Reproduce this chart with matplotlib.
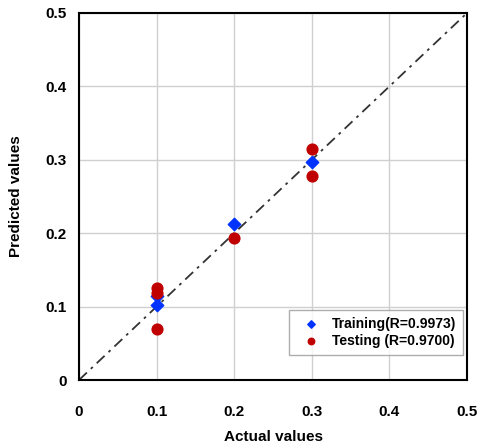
import matplotlib
matplotlib.use("Agg")
import matplotlib.pyplot as plt

plt.rcParams['font.family'] = ['Liberation Sans', 'DejaVu Sans']

train_actual = [0.1, 0.1, 0.2, 0.3]
train_pred = [0.102, 0.114, 0.212, 0.297]
test_actual = [0.1, 0.1, 0.1, 0.2, 0.3, 0.3]
test_pred = [0.125, 0.118, 0.070, 0.193, 0.315, 0.278]
ticks = [0, 0.1, 0.2, 0.3, 0.4, 0.5]
tick_labels = ['0', '0.1', '0.2', '0.3', '0.4', '0.5']

fig = plt.figure(figsize=(4.89, 4.44), dpi=100)
ax = fig.add_axes([79/489, 1-380/444, (467-79)/489, (380-13)/444])
ax.set_xlim(0, 0.5)
ax.set_ylim(0, 0.5)
ax.grid(True, color='#d0d0d0', linewidth=1.0)
ax.set_axisbelow(True)
ax.plot([0, 0.5], [0, 0.5], color='#333333', linestyle=(0, (6, 3, 1.5, 3)), linewidth=1.3, zorder=2)
ax.scatter(train_actual, train_pred, marker='D', s=40, color='#0033ff', zorder=3, label='Training(R=0.9973)')
ax.scatter(test_actual, test_pred, marker='o', s=60, color='#c00000', zorder=4, label='Testing (R=0.9700)')
ax.set_xticks(ticks)
ax.set_yticks(ticks)
ax.set_xticklabels(tick_labels, fontsize=11, fontweight='bold')
ax.set_yticklabels(tick_labels, fontsize=11, fontweight='bold')
ax.tick_params(axis='x', length=0, pad=18)
ax.tick_params(axis='y', length=0, pad=9)
for s in ax.spines.values():
    s.set_linewidth(1.5)
ax.set_xlabel('Actual values', fontsize=11, fontweight='bold', labelpad=8)
ax.set_ylabel('Predicted values', fontsize=11, fontweight='bold', labelpad=16)
leg = ax.legend(loc='lower right', bbox_to_anchor=(0.99, 0.068), prop={'weight': 'bold', 'size': 10},
                frameon=True, fancybox=False, edgecolor='#999999', handletextpad=0.4, markerscale=0.6,
                borderpad=0.5, labelspacing=0.25, handlelength=2.2, borderaxespad=0)
leg._legend_box.align = 'left'
fig.savefig('out.png', dpi=100)
